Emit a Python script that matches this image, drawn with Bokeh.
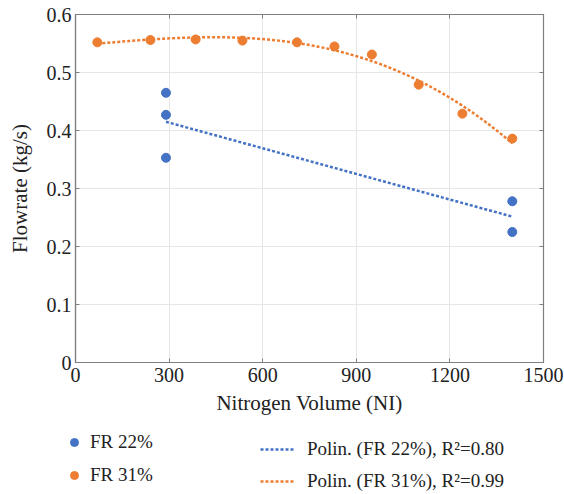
import numpy as np
from bokeh.plotting import figure
from bokeh.models import (Range1d, FixedTicker, LinearAxis, Legend, LegendItem)
from bokeh.embed import file_html
from bokeh.resources import INLINE

# ---- data ----
fr22_x = [290, 290, 290, 1400, 1400]
fr22_y = [0.465, 0.427, 0.353, 0.278, 0.225]
fr31_x = [70, 240, 385, 535, 710, 830, 950, 1100, 1240, 1400]
fr31_y = [0.552, 0.556, 0.557, 0.555, 0.552, 0.545, 0.531, 0.479, 0.429, 0.386]
x_ticks = [0, 300, 600, 900, 1200, 1500]
y_ticks = [0, 0.1, 0.2, 0.3, 0.4, 0.5, 0.6]
y_tick_labels = ["0", "0.1", "0.2", "0.3", "0.4", "0.5", "0.6"]
labels = ["FR 22%", "FR 31%", "Polin. (FR 22%), R\u00b2=0.80", "Polin. (FR 31%), R\u00b2=0.99"]

BLUE = "#4472C4"
ORANGE = "#ED7D31"
FONT = "Liberation Serif"
TEXT = "#222222"

# trend lines (least-squares fits of the data)
c22 = np.polyfit(fr22_x, fr22_y, 1)
t22_x = np.linspace(min(fr22_x), max(fr22_x), 60)
t22_y = np.polyval(c22, t22_x)
c31 = np.polyfit(fr31_x, fr31_y, 3)
t31_x = np.linspace(min(fr31_x), max(fr31_x), 120)
t31_y = np.polyval(c31, t31_x)

p = figure(width=564, height=417, output_backend="svg", toolbar_location=None,
           x_range=Range1d(0, 1500), y_range=Range1d(0, 0.6),
           min_border_left=75, min_border_right=21, min_border_top=14,
           min_border_bottom=55)
p.background_fill_color = "white"
p.border_fill_color = "white"
p.outline_line_color = "#7f7f7f"
p.outline_line_width = 1.2

p.xaxis.ticker = FixedTicker(ticks=x_ticks)
p.yaxis.ticker = FixedTicker(ticks=y_ticks)
p.yaxis.major_label_overrides = {t: l for t, l in zip(y_ticks, y_tick_labels)}
for ax in (p.xaxis[0], p.yaxis[0]):
    ax.axis_line_color = "#7f7f7f"
    ax.axis_line_width = 1.2
    ax.major_tick_in = 4
    ax.major_tick_out = 0
    ax.major_tick_line_color = "#7f7f7f"
    ax.minor_tick_line_color = None
    ax.major_label_text_font = FONT
    ax.major_label_text_font_size = "20px"
    ax.major_label_text_color = TEXT
    ax.axis_label_text_font = FONT
    ax.axis_label_text_font_size = "21px"
    ax.axis_label_text_font_style = "normal"
    ax.axis_label_text_color = TEXT
p.xaxis.axis_label = "Nitrogen Volume (NI)"
p.yaxis.axis_label = "Flowrate (kg/s)"
p.xaxis.major_label_standoff = 5
p.yaxis.major_label_standoff = 4
p.xaxis.axis_label_standoff = 6
p.yaxis.axis_label_standoff = 12

# box ticks on top/right (no labels drawn)
rax = LinearAxis(ticker=FixedTicker(ticks=y_ticks), major_label_text_color=None,
                 major_label_text_font_size="6px", major_label_standoff=0,
                 major_tick_in=4, major_tick_out=0, minor_tick_line_color=None,
                 axis_line_color="#7f7f7f", major_tick_line_color="#7f7f7f")
tax = LinearAxis(ticker=FixedTicker(ticks=x_ticks), major_label_text_color=None,
                 major_label_text_font_size="6px", major_label_standoff=0,
                 major_tick_in=4, major_tick_out=0, minor_tick_line_color=None,
                 axis_line_color="#7f7f7f", major_tick_line_color="#7f7f7f")
p.add_layout(rax, "right")
p.add_layout(tax, "above")

p.grid.grid_line_color = "#e6e6e6"
p.grid.grid_line_width = 1

p.line(t22_x, t22_y, line_color=BLUE, line_width=2.5, line_dash="3 2")
p.line(t31_x, t31_y, line_color=ORANGE, line_width=2.5, line_dash="3 2")
p.scatter(fr22_x, fr22_y, size=9, fill_color=BLUE, line_color=BLUE)
p.scatter(fr31_x, fr31_y, size=9, fill_color=ORANGE, line_color=ORANGE)

# ---- legend panel (separate root so its frame spans the full width) ----
lg = figure(width=564, height=77, output_backend="svg", toolbar_location=None,
            x_range=Range1d(-1, 0), y_range=Range1d(-1, 0),
            x_axis_location=None, y_axis_location=None,
            min_border=0, min_border_left=0, min_border_right=0,
            min_border_top=0, min_border_bottom=0)
lg.grid.visible = False
lg.outline_line_color = None
lg.background_fill_color = "white"
lg.border_fill_color = "white"

# renderers that only supply legend glyphs (their data lie outside this panel's ranges)
d22 = lg.scatter(fr22_x, fr22_y, size=9, fill_color=BLUE, line_color=BLUE)
d31 = lg.scatter(fr31_x, fr31_y, size=9, fill_color=ORANGE, line_color=ORANGE)
e22 = lg.line(t22_x, t22_y, line_color=BLUE, line_width=2.5, line_dash="3 2")
e31 = lg.line(t31_x, t31_y, line_color=ORANGE, line_width=2.5, line_dash="3 2")

leg1 = Legend(items=[LegendItem(label=labels[0], renderers=[d22]),
                     LegendItem(label=labels[1], renderers=[d31])],
              location=(64, 8), padding=0, margin=0, spacing=11,
              glyph_width=20, glyph_height=20, label_height=20, label_standoff=6,
              label_text_font=FONT, label_text_font_size="19px",
              label_text_color=TEXT, border_line_color=None,
              background_fill_alpha=0)
leg2 = Legend(items=[LegendItem(label=labels[2], renderers=[e22]),
                     LegendItem(label=labels[3], renderers=[e31])],
              location=(260, 2), padding=0, margin=0, spacing=10,
              glyph_width=35, glyph_height=20, label_height=20, label_standoff=12,
              label_text_font=FONT, label_text_font_size="19px",
              label_text_color=TEXT, border_line_color=None,
              background_fill_alpha=0)
lg.add_layout(leg1, "center")
lg.add_layout(leg2, "center")

open("out.html", "w").write(file_html([p, lg], INLINE))
